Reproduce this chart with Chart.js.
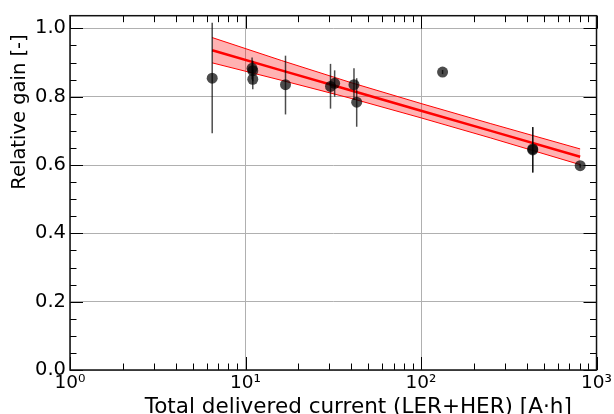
<!DOCTYPE html>
<html>
<head>
<meta charset="utf-8">
<script src="https://cdn.jsdelivr.net/npm/chart.js@4"></script>
<style>
  html, body { margin: 0; padding: 0; background: #fff; }
  #wrap { width: 614px; height: 414px; }
</style>
</head>
<body>
<div id="wrap"><canvas id="grafico" width="614" height="414"></canvas></div>
<script>
// measured gain vs. delivered current, with error bars
const gainX  = [6.46, 10.9, 11.0, 11.0, 16.9, 30.5, 32.2, 41.5, 43.0, 132.7, 433, 433, 807];
const gainY  = [0.854, 0.883, 0.876, 0.851, 0.835, 0.830, 0.839, 0.835, 0.784, 0.872, 0.647, 0.644, 0.598];
const gainLo = [0.693, 0.850, 0.845, 0.822, 0.748, 0.765, 0.800, 0.790, 0.712, 0.866, 0.578, 0.578, 0.592];
const gainHi = [1.016, 0.915, 0.905, 0.880, 0.920, 0.896, 0.877, 0.883, 0.854, 0.878, 0.711, 0.711, 0.604];

// log fit and its confidence band
const fitX   = [6.46, 16, 40, 100, 250, 807];
const fitY   = [0.936, 0.877, 0.818, 0.759, 0.700, 0.624];
const bandHi = [0.973, 0.906, 0.841, 0.780, 0.721, 0.647];
const bandLo = [0.899, 0.848, 0.795, 0.738, 0.679, 0.601];

// axes
const xTicks = [1, 10, 100, 1000];
const xTickLabels = ['10⁰', '10¹', '10²', '10³'];
const yTicks = [0, 0.2, 0.4, 0.6, 0.8, 1.0];
const yMinor = [0.05, 0.1, 0.15, 0.25, 0.3, 0.35, 0.45, 0.5, 0.55, 0.65, 0.7, 0.75, 0.85, 0.9, 0.95];
const xTitle = 'Total delivered current (LER+HER) [A·h]';
const yTitle = 'Relative gain [-]';

const FONT = 'DejaVu Sans';
const pts = (xs, ys) => xs.map((x, i) => ({ x: x, y: ys[i] }));

// error bars, drawn just before the markers
const errorBars = {
    id: 'errorBars',
    beforeDatasetDraw(chart, args) {
        if (args.index !== 0) return;
        const { ctx, scales: { x, y } } = chart;
        ctx.save();
        ctx.strokeStyle = 'rgba(0,0,0,0.7)';
        ctx.lineWidth = 1.5;
        gainX.forEach((v, i) => {
            const px = x.getPixelForValue(v);
            ctx.beginPath();
            ctx.moveTo(px, y.getPixelForValue(gainLo[i]));
            ctx.lineTo(px, y.getPixelForValue(gainHi[i]));
            ctx.stroke();
        });
        ctx.restore();
    }
};

// inward ticks on all four sides, the frame, and the axis titles
const frameTicks = {
    id: 'frameTicks',
    afterDraw(chart) {
        const { ctx, chartArea: a, scales: { x, y } } = chart;
        ctx.save();
        ctx.strokeStyle = '#000';
        ctx.lineWidth = 1;
        const vTick = (v, len) => {
            const px = Math.round(x.getPixelForValue(v)) + 0.5;
            ctx.beginPath();
            ctx.moveTo(px, a.bottom); ctx.lineTo(px, a.bottom - len);
            ctx.moveTo(px, a.top); ctx.lineTo(px, a.top + len);
            ctx.stroke();
        };
        const hTick = (v, len) => {
            const py = Math.round(y.getPixelForValue(v)) + 0.5;
            ctx.beginPath();
            ctx.moveTo(a.left, py); ctx.lineTo(a.left + len, py);
            ctx.moveTo(a.right, py); ctx.lineTo(a.right - len, py);
            ctx.stroke();
        };
        xTicks.forEach(v => vTick(v, 13));
        [1, 10, 100].forEach(d => {
            for (let k = 2; k < 10; k++) vTick(k * d, 6.5);
        });
        yTicks.forEach(v => hTick(v, 13));
        yMinor.forEach(v => hTick(v, 6.5));

        ctx.lineWidth = 1.5;
        ctx.strokeStyle = '#111';
        ctx.strokeRect(a.left, a.top, a.right - a.left, a.bottom - a.top);

        ctx.fillStyle = '#000';
        ctx.textAlign = 'center';
        ctx.textBaseline = 'alphabetic';
        ctx.font = '21.5px "' + FONT + '"';
        ctx.fillText(xTitle, (a.left + a.right) / 2 + 25, 413);

        ctx.translate(25, 112);
        ctx.rotate(-Math.PI / 2);
        ctx.font = '19.5px "' + FONT + '"';
        ctx.fillText(yTitle, 0, 0);
        ctx.restore();
    }
};

new Chart(document.getElementById('grafico'), {
    type: 'scatter',
    data: {
        datasets: [
            {
                type: 'scatter',
                data: pts(gainX, gainY),
                backgroundColor: 'rgba(0,0,0,0.7)',
                pointRadius: 5.5,
                pointBorderWidth: 0,
                order: 0
            },
            {
                type: 'line',
                data: pts(fitX, fitY),
                borderColor: '#ff0000',
                borderWidth: 2.5,
                pointRadius: 0,
                fill: false,
                order: 1
            },
            {
                type: 'line',
                data: pts(fitX, bandHi),
                borderColor: '#ff0000',
                borderWidth: 1,
                pointRadius: 0,
                fill: false,
                order: 2
            },
            {
                type: 'line',
                data: pts(fitX, bandLo),
                borderColor: '#ff0000',
                borderWidth: 1,
                backgroundColor: 'rgba(255,0,0,0.3)',
                pointRadius: 0,
                fill: 2,
                order: 3
            }
        ]
    },
    options: {
        responsive: false,
        animation: false,
        events: [],
        layout: { padding: { top: 12, right: 16, left: 0, bottom: 0 } },
        plugins: { legend: { display: false }, tooltip: { enabled: false } },
        scales: {
            x: {
                type: 'logarithmic',
                min: 1,
                max: 1000,
                afterBuildTicks: s => { s.ticks = xTicks.map(v => ({ value: v })); },
                afterFit: s => { s.height = 44; },
                ticks: {
                    callback: (v, i) => xTickLabels[i],
                    color: '#000',
                    font: { family: FONT, size: 18.5 },
                    maxRotation: 0,
                    autoSkip: false,
                    padding: 2
                },
                grid: { color: '#b0b0b0', lineWidth: 1, drawTicks: false },
                border: { display: false }
            },
            y: {
                min: 0,
                max: 1.037,
                afterBuildTicks: s => { s.ticks = yTicks.map(v => ({ value: v })); },
                afterFit: s => { s.width = 70; },
                ticks: {
                    callback: v => v.toFixed(1),
                    color: '#000',
                    font: { family: FONT, size: 19.5 },
                    padding: 4
                },
                grid: { color: '#b0b0b0', lineWidth: 1, drawTicks: false },
                border: { display: false }
            }
        }
    },
    plugins: [errorBars, frameTicks]
});
</script>
</body>
</html>
